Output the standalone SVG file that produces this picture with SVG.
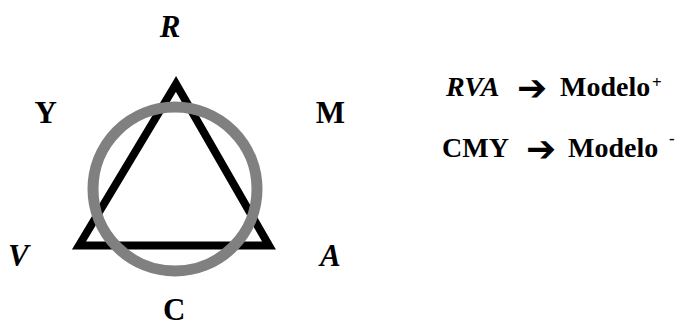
<svg xmlns="http://www.w3.org/2000/svg" width="678" height="327" viewBox="0 0 678 327">
<style>
.lbl{font-family:"Liberation Serif","Times New Roman",serif;font-weight:bold;font-size:31px;fill:#000}
.it{font-style:italic}
.txt{font-family:"Liberation Serif","Times New Roman",serif;font-weight:bold;font-size:28px;fill:#000}
.sup{font-family:"Liberation Serif","Times New Roman",serif;font-weight:bold;font-size:17px;fill:#000}
.arr{font-family:"DejaVu Sans",sans-serif;font-weight:bold;font-size:36px;fill:#000}
</style>
<rect width="678" height="327" fill="#fff"/>
<g id="shapes">
<polygon id="triangle" points="176,84 79,245.5 269,245.5" fill="none" stroke="#000" stroke-width="8" stroke-linejoin="miter"/>
<circle id="circle" cx="175" cy="189" r="82" fill="none" stroke="#808080" stroke-width="11"/>
</g>
<g id="label-R"><text class="lbl it" x="170" y="37" text-anchor="middle">R</text></g>
<g id="label-Y"><text class="lbl" x="45.6" y="123" text-anchor="middle">Y</text></g>
<g id="label-M"><text class="lbl" x="330.5" y="123" text-anchor="middle">M</text></g>
<g id="label-V"><text class="lbl it" x="8" y="266">V</text></g>
<g id="label-A"><text class="lbl it" x="320" y="266">A</text></g>
<g id="label-C"><text class="lbl" x="174.3" y="320" text-anchor="middle">C</text></g>
<g id="legend1">
<text class="txt it" x="446" y="96">RVA</text>
<text class="arr" x="517" y="100">➔</text>
<text class="txt" x="560" y="96">Modelo</text>
<text class="sup" x="652" y="88">+</text>
</g>
<g id="legend2">
<text class="txt" x="442" y="157">CMY</text>
<text class="arr" x="526" y="161">➔</text>
<text class="txt" x="568" y="157">Modelo</text>
<text class="sup" x="669" y="144">-</text>
</g>
</svg>
